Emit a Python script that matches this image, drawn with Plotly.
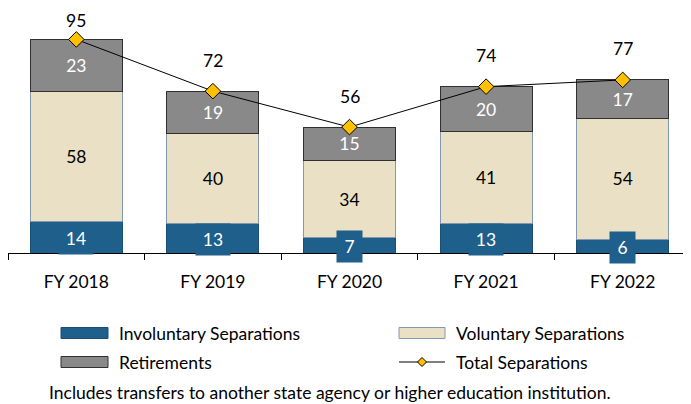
import plotly.graph_objects as go

categories = ["FY 2018", "FY 2019", "FY 2020", "FY 2021", "FY 2022"]
involuntary = [14, 13, 7, 13, 6]
voluntary = [58, 40, 34, 41, 54]
retirements = [23, 19, 15, 20, 17]
total = [95, 72, 56, 74, 77]

legend_names = ["Involuntary Separations", "Voluntary Separations", "Retirements", "Total Separations"]
note_text = "Includes transfers to another state agency or higher education institution."

C_INV = "#1F5F8B"
C_VOL = "#E9E0C5"
C_RET = "#898989"
C_GOLD = "#FFC000"
FONT = "Lato"
FS = 17.5

# page has an 8px body margin; figure placed at (8, 8)
OFF = 8
W, H = 683, 396
ML, MR, MT, MB = 0, 0, 2, 151
PW = W - ML - MR
PH = H - MT - MB
YMAX = 108.1

def px_x(p):
    return (p - OFF - ML) / PW

def px_y(p):
    return (H - MB - (p - OFF)) / PH

fig = go.Figure()
fig.add_trace(go.Bar(x=categories, y=involuntary, name=legend_names[0],
                     marker=dict(color=C_INV, line=dict(color="#1B4F74", width=1)),
                     showlegend=False, hoverinfo="skip"))
fig.add_trace(go.Bar(x=categories, y=voluntary, name=legend_names[1],
                     marker=dict(color=C_VOL, line=dict(color="#8497B0", width=1)),
                     text=[str(v) for v in voluntary], textposition="inside",
                     insidetextanchor="middle", textangle=0,
                     textfont=dict(family=FONT, size=FS, color="black"),
                     showlegend=False, hoverinfo="skip"))
fig.add_trace(go.Bar(x=categories, y=retirements, name=legend_names[2],
                     marker=dict(color=C_RET, line=dict(color="#303030", width=1)),
                     text=[str(v) for v in retirements], textposition="inside",
                     insidetextanchor="middle", textangle=0,
                     textfont=dict(family=FONT, size=FS, color="white"),
                     showlegend=False, hoverinfo="skip"))
fig.add_trace(go.Scatter(x=categories, y=total, name=legend_names[3], mode="lines+markers",
                         line=dict(color="black", width=1),
                         marker=dict(symbol="diamond", size=12, color=C_GOLD,
                                     line=dict(color="black", width=1)),
                         cliponaxis=False, showlegend=False, hoverinfo="skip"))

annotations = []
# involuntary labels with filled boxes
for c, v in zip(categories, involuntary):
    s = str(v)
    annotations.append(dict(x=c, y=v / 2, xref="x", yref="y", text=s, showarrow=False,
                            font=dict(family=FONT, size=FS, color="white"),
                            bgcolor=C_INV, borderpad=5, width=9 * len(s) + 6,
                            yshift=-1))
# total labels
scale = PH / YMAX
for c, v in zip(categories, total):
    marker_px = OFF + MT + PH - v * scale
    shift = min(31, marker_px - 20)
    annotations.append(dict(x=c, y=v, xref="x", yref="y", text=str(v), showarrow=False,
                            font=dict(family=FONT, size=FS, color="black"), yshift=shift))

# manual legend
shapes = []
leg_rows = [333, 362]
leg_items = [
    (61, 108, leg_rows[0], C_INV, "#1B4F74", legend_names[0], 117),
    (399, 445, leg_rows[0], C_VOL, "#8497B0", legend_names[1], 454),
    (61, 108, leg_rows[1], C_RET, "#303030", legend_names[2], 117),
]
for x0, x1, yc, fill, lc, name, tx in leg_items:
    shapes.append(dict(type="rect", xref="paper", yref="paper",
                       x0=px_x(x0), x1=px_x(x1), y0=px_y(yc - 5.5), y1=px_y(yc + 5.5),
                       fillcolor=fill, line=dict(color=lc, width=1)))
    annotations.append(dict(x=px_x(tx), y=px_y(yc), xref="paper", yref="paper", text=name,
                            showarrow=False, xanchor="left", yanchor="middle",
                            font=dict(family=FONT, size=FS, color="black")))
# total legend entry
yc = leg_rows[1]
shapes.append(dict(type="line", xref="paper", yref="paper", x0=px_x(399), x1=px_x(445),
                   y0=px_y(yc), y1=px_y(yc), line=dict(color="black", width=1)))
d = 4.5
cx = 422
shapes.append(dict(type="path", xref="paper", yref="paper",
                   path=f"M {px_x(cx - d)} {px_y(yc)} L {px_x(cx)} {px_y(yc - d)} L {px_x(cx + d)} {px_y(yc)} L {px_x(cx)} {px_y(yc + d)} Z",
                   fillcolor=C_GOLD, line=dict(color="black", width=1)))
annotations.append(dict(x=px_x(454), y=px_y(yc), xref="paper", yref="paper", text=legend_names[3],
                        showarrow=False, xanchor="left", yanchor="middle",
                        font=dict(family=FONT, size=FS, color="black")))
# note
annotations.append(dict(x=px_x(330), y=px_y(392), xref="paper", yref="paper", text=note_text,
                        showarrow=False, xanchor="center", yanchor="middle",
                        font=dict(family=FONT, size=FS, color="black")))

fig.update_layout(
    width=W, height=H,
    margin=dict(l=ML, r=MR, t=MT, b=MB, pad=0),
    paper_bgcolor="white", plot_bgcolor="white",
    barmode="stack", bargap=0.327,
    showlegend=False,
    font=dict(family=FONT, size=FS, color="black"),
    xaxis=dict(showline=True, linecolor="black", linewidth=1, ticks="outside",
               tickson="boundaries", ticklen=6, tickcolor="black", tickwidth=1,
               showgrid=False, ticklabelstandoff=13,
               tickfont=dict(family=FONT, size=FS, color="black")),
    yaxis=dict(range=[0, YMAX], visible=False, showgrid=False, zeroline=False),
    annotations=annotations,
    shapes=shapes,
)

fig.write_html("out.html")
